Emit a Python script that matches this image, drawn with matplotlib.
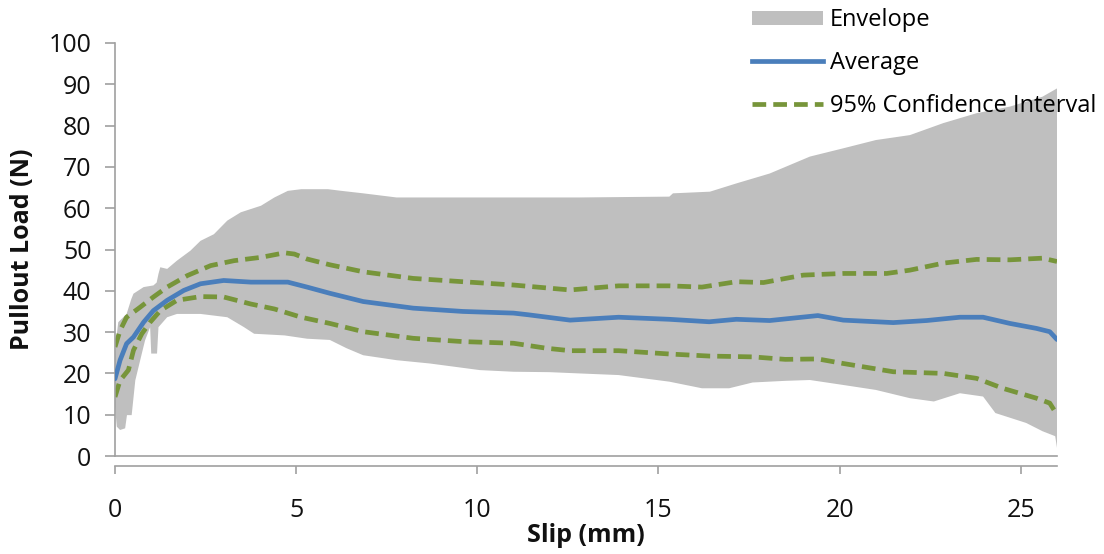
import matplotlib
matplotlib.use("Agg")
import matplotlib.pyplot as plt
from matplotlib.patches import Patch
from matplotlib.lines import Line2D

plt.rcParams['font.family'] = ['Open Sans', 'DejaVu Sans']

# Envelope of all specimens: upper and lower bounds (slip mm, load N)
env_upper_x = [0, 0.03, 0.09, 0.32, 0.45, 0.51, 0.79, 1.06, 1.15, 1.2, 1.25, 1.44, 1.71,
               2.08, 2.36, 2.73, 3.1, 3.47, 4.03, 4.4, 4.77, 5.14, 5.88, 6.25, 6.85, 7.77,
               10.0, 12.83, 15.3, 15.4, 16.42, 17.15, 18.07, 19.18, 20.1, 21.0, 21.94,
               22.86, 23.78, 24.7, 25.6, 26.0]
env_upper_y = [24, 28, 32.4, 34.4, 38, 39.3, 40.9, 41.3, 42, 44.1, 45.7, 45.3, 47.3,
               49.7, 52.1, 53.7, 57.0, 59.0, 60.6, 62.6, 64.2, 64.6, 64.6, 64.2, 63.6, 62.6,
               62.6, 62.6, 62.8, 63.6, 64.0, 66.0, 68.4, 72.5, 74.5, 76.5, 77.7,
               80.6, 83.0, 84.6, 87.0, 89.0]
env_lower_x = [0, 0.05, 0.14, 0.28, 0.33, 0.46, 0.56, 0.74, 0.83, 0.97, 1.0, 1.16, 1.2,
               1.44, 1.71, 2.36, 3.1, 3.56, 3.84, 4.68, 5.3, 5.93, 6.39, 6.85, 7.77, 8.69,
               10.07, 11.0, 12.0, 12.8, 13.9, 15.3, 16.2, 16.95, 17.6, 18.5, 19.18, 20.1,
               21.0, 21.94, 22.6, 23.32, 23.96, 24.3, 25.15, 25.6, 25.95, 26.0]
env_lower_y = [12, 7.1, 6.3, 6.7, 9.9, 9.9, 18.3, 24.8, 28.0, 31.2, 24.8, 24.8, 31.2,
               33.6, 34.4, 34.4, 33.6, 31.2, 29.6, 29.2, 28.4, 28.1, 26.1, 24.4, 23.2, 22.4,
               20.8, 20.4, 20.3, 20.0, 19.6, 18.0, 16.4, 16.4, 17.8, 18.2, 18.4, 17.2,
               16.0, 14.0, 13.2, 15.2, 14.4, 10.4, 8.0, 6.0, 4.8, 2.0]

# Average pullout curve
avg_x = [0, 0.14, 0.32, 0.51, 0.79, 1.06, 1.44, 1.9, 2.36, 3.0, 3.75, 4.77, 5.3, 5.93,
         6.85, 8.23, 9.6, 11.0, 11.4, 12.56, 13.9, 15.3, 16.4, 17.15, 18.07, 19.4, 20.1,
         21.48, 22.4, 23.32, 23.96, 24.7, 25.43, 25.8, 26.0]
avg_y = [18.7, 23.2, 27.2, 28.8, 32.4, 35.2, 37.7, 40.1, 41.7, 42.5, 42.1, 42.1, 40.9, 39.4,
         37.4, 35.8, 35.0, 34.6, 34.2, 32.9, 33.6, 33.1, 32.5, 33.1, 32.8, 34.0, 32.9,
         32.3, 32.8, 33.6, 33.6, 32.1, 30.9, 30.1, 28.2]

# 95% confidence interval bounds
ci_hi_x = [0, 0.14, 0.32, 0.69, 1.06, 1.44, 2.0, 2.64, 3.29, 4.03, 4.68, 4.95, 5.3, 5.93,
           6.85, 8.23, 9.6, 11.0, 12.56, 13.9, 15.3, 16.2, 17.15, 17.9, 19.0, 20.1, 21.3,
           21.94, 22.86, 23.78, 24.7, 25.6, 26.0]
ci_hi_y = [26.4, 30.4, 33.6, 36.0, 38.5, 40.9, 43.7, 46.1, 47.3, 48.1, 49.2, 48.9, 47.7, 46.3,
           44.6, 43.0, 42.2, 41.4, 40.2, 41.2, 41.2, 40.9, 42.2, 42.0, 43.8, 44.2, 44.2,
           45.0, 46.7, 47.6, 47.5, 47.9, 47.1]
ci_lo_x = [0, 0.14, 0.37, 0.51, 0.74, 0.97, 1.25, 1.71, 2.36, 3.0, 3.75, 4.4, 5.14, 5.93,
           6.85, 8.23, 9.6, 11.0, 11.9, 12.56, 13.9, 15.3, 16.4, 17.6, 18.5, 19.4, 20.1,
           21.48, 22.86, 23.78, 24.5, 25.43, 25.8, 26.0]
ci_lo_y = [14.3, 18.3, 20.8, 25.6, 29.6, 32.4, 35.2, 37.7, 38.6, 38.5, 36.8, 35.6, 33.6, 32.1,
           30.1, 28.5, 27.7, 27.3, 26.1, 25.5, 25.5, 24.7, 24.2, 24.0, 23.4, 23.5, 22.4,
           20.4, 20.0, 18.8, 16.4, 14.0, 12.8, 10.0]

x_ticks = [0, 5, 10, 15, 20, 25]
y_ticks = [0, 10, 20, 30, 40, 50, 60, 70, 80, 90, 100]

ENV_COLOR = '#BFBFBF'
AVG_COLOR = '#4A7EBB'
CI_COLOR = '#77953A'
AXIS_COLOR = '#A0A0A0'
TEXT_COLOR = '#111111'

fig = plt.figure(figsize=(11.04, 5.54), dpi=100)
ax = fig.add_axes([115 / 1104, 1 - 456 / 554, (1057 - 115) / 1104, (456 - 43) / 554])

# Envelope as a closed polygon: upper bound forward, lower bound backward
poly_x = env_upper_x + env_lower_x[::-1]
poly_y = env_upper_y + env_lower_y[::-1]
ax.fill(poly_x, poly_y, color=ENV_COLOR, lw=0, zorder=1)

ax.plot(avg_x, avg_y, color=AVG_COLOR, lw=3.4, solid_capstyle='round',
        solid_joinstyle='round', zorder=3)
ci_kw = dict(color=CI_COLOR, lw=3.4, dashes=(2.9, 1.5), dash_capstyle='butt',
             dash_joinstyle='round', zorder=2)
ax.plot(ci_hi_x, ci_hi_y, **ci_kw)
ax.plot(ci_lo_x, ci_lo_y, **ci_kw)

ax.set_xlim(0, 26)
ax.set_ylim(0, 100)
ax.set_xticks(x_ticks)
ax.set_yticks(y_ticks)

for side in ('top', 'right'):
    ax.spines[side].set_visible(False)
for side in ('left', 'bottom'):
    ax.spines[side].set_color(AXIS_COLOR)
    ax.spines[side].set_linewidth(1.2)
ax.spines['bottom'].set_position(('outward', 7))
ax.axhline(0, color=AXIS_COLOR, lw=1.2, zorder=4, clip_on=False)

ax.tick_params(axis='y', length=7, width=1.2, color=AXIS_COLOR, pad=10,
               labelsize=18, labelcolor=TEXT_COLOR)
ax.tick_params(axis='x', length=6, width=1.2, color=AXIS_COLOR, pad=17,
               labelsize=18, labelcolor=TEXT_COLOR)

ax.set_ylabel('Pullout Load (N)', fontsize=18, fontweight='bold', color=TEXT_COLOR)
ax.set_xlabel('Slip (mm)', fontsize=18, fontweight='bold', color=TEXT_COLOR)
ax.yaxis.set_label_coords(-(115 - 23) / 942, 0.5)
ax.xaxis.set_label_coords(0.5, -(535 - 456) / 413)
ax.xaxis.label.set_va('center')
ax.yaxis.label.set_va('center')

handles = [Patch(facecolor=ENV_COLOR, edgecolor='none'),
           Line2D([], [], color=AVG_COLOR, lw=3.4),
           Line2D([], [], color=CI_COLOR, lw=3.4, dashes=(2.9, 1.5))]
labels = ['Envelope', 'Average', '95% Confidence Interval']
fig.legend(handles, labels, loc='upper left', bbox_to_anchor=(752 / 1104, 1 - 8 / 554),
           frameon=False, fontsize=17, handlelength=3.0, handleheight=0.55,
           handletextpad=0.3, labelspacing=0.8, borderpad=0, borderaxespad=0)

fig.savefig('out.png', dpi=100)
